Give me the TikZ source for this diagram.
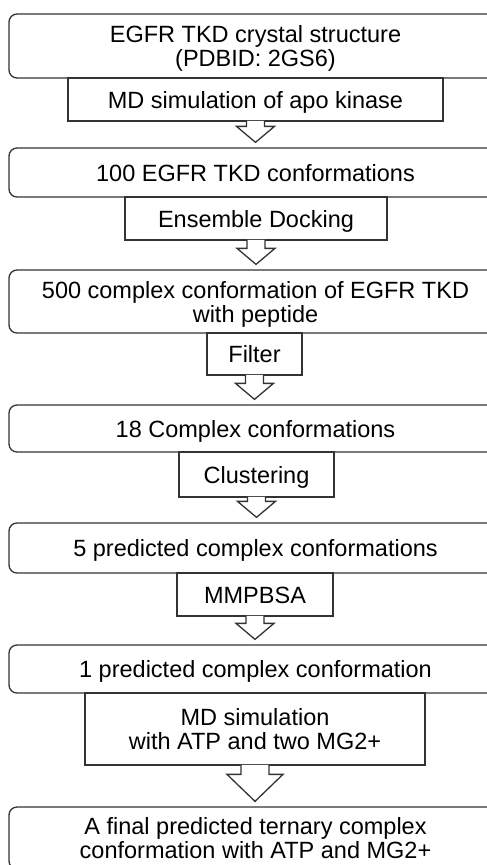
\documentclass[tikz,border=0pt]{standalone}
\usepackage{fontspec}
\setmainfont{Liberation Sans}
\usetikzlibrary{calc}

\tikzset{
  base/.style={draw=black!80, line width=1.3pt, fill=white, inner sep=0pt,
    align=center, font=\fontsize{23.5}{24}\selectfont},
  stage/.style={base, rounded corners=8pt, minimum width=493pt},
  action/.style={base},
  oneline/.style={text height=17pt, text depth=0pt},
  twoline/.style={text height=41pt, text depth=0pt},
  flow/.style={draw=black!80, line width=1.3pt, fill=white, line join=miter},
}

% hollow block arrow from the bottom of one node to just above the next
% #1 from, #2 to, #3 half stem width, #4 half head width, #5 head length
\newcommand\flowstep[5]{%
  \path[flow] let \p1=(#1.south), \p2=(#2.north) in
    (\x1-#3,\y1+0.8pt) -- (\x1-#3,\y2+5pt+#5) -- (\x1-#4,\y2+5pt+#5)
    -- (\x1,\y2+5pt) -- (\x1+#4,\y2+5pt+#5) -- (\x1+#3,\y2+5pt+#5)
    -- (\x1+#3,\y1+0.8pt);
}

\begin{document}
\begin{tikzpicture}[x=1pt,y=-1pt]
  \clip (0,0) rectangle (487,865);
  \fill[white] (0,0) rectangle (487,865);

  % stages
  \node[stage, twoline, minimum height=64pt] (b1) at (255.5,46)
    {EGFR TKD crystal structure\\(PDBID: 2GS6)};
  \node[stage, oneline, minimum height=49pt] (b2) at (255.5,172.5)
    {100 EGFR TKD conformations};
  \node[stage, twoline, minimum height=63pt] (b3) at (255.5,301.5)
    {500 complex conformation of EGFR TKD\\with peptide};
  \node[stage, oneline, minimum height=47pt] (b4) at (255.5,428.5)
    {18 Complex conformations};
  \node[stage, oneline, minimum height=50pt] (b5) at (255.5,548)
    {5 predicted complex conformations};
  \node[stage, oneline, minimum height=48pt] (b6) at (255.5,669)
    {1 predicted complex conformation};
  \node[stage, twoline, minimum height=62pt] (b7) at (255.5,838)
    {A final predicted ternary complex\\conformation with ATP and MG2+};

  % operations
  \node[action, oneline, minimum width=375pt, minimum height=43pt] (s1) at (255.5,99.5)
    {MD simulation of apo kinase};
  \node[action, oneline, minimum width=262pt, minimum height=43pt] (s2) at (256,218.5)
    {Ensemble Docking};
  \node[action, oneline, minimum width=95pt, minimum height=42pt] (s3) at (254.5,354)
    {Filter};
  \node[action, oneline, minimum width=155pt, minimum height=45pt] (s4) at (256.5,474.5)
    {Clustering};
  \node[action, oneline, minimum width=156pt, minimum height=43pt] (s5) at (255,594.5)
    {MMPBSA};
  \node[action, twoline, minimum width=340pt, minimum height=72pt] (s6) at (255,729)
    {MD simulation\\with ATP and two MG2+};

  % arrows
  \flowstep{s1}{b2}{9pt}{19pt}{16pt}
  \flowstep{s2}{b3}{9pt}{19pt}{16pt}
  \flowstep{s3}{b4}{9pt}{19pt}{16pt}
  \flowstep{s4}{b5}{9pt}{19pt}{16pt}
  \flowstep{s5}{b6}{9pt}{19pt}{16pt}
  \flowstep{s6}{b7}{14pt}{28pt}{27pt}
\end{tikzpicture}
\end{document}
